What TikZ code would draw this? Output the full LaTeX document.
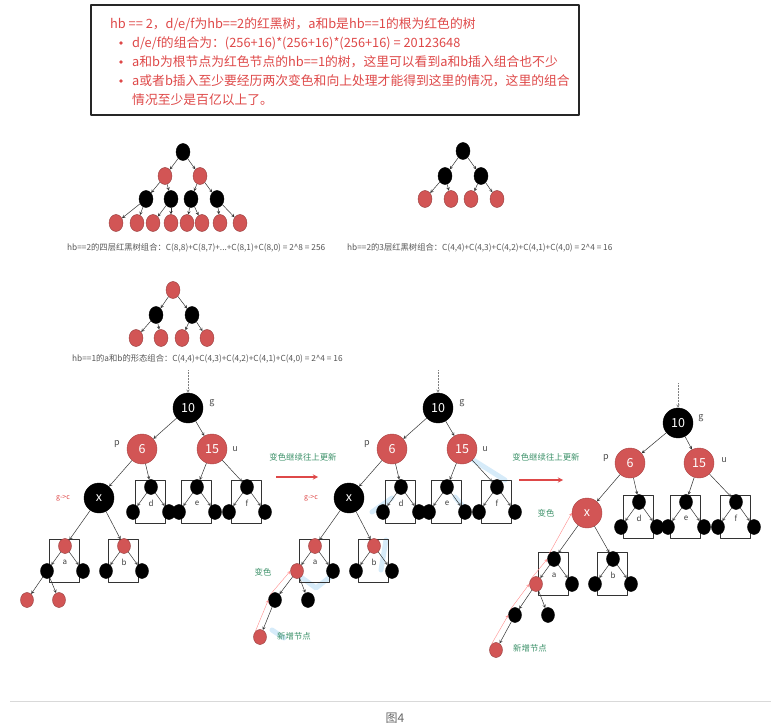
\documentclass[tikz,border=0pt]{standalone}
\usepackage{fontspec}
\setmainfont{Noto Sans CJK SC}
\usetikzlibrary{shapes.geometric}

\definecolor{rbred}{RGB}{210,85,85}
\definecolor{txtred}{RGB}{222,72,72}
\definecolor{notegreen}{RGB}{60,145,105}
\definecolor{capgray}{RGB}{85,85,85}
\definecolor{hiblue}{RGB}{120,190,235}

\tikzset{
  bignode/.style={circle, draw=black, fill=black, minimum size=30pt, inner sep=0pt, text=white, font=\fontsize{12.5}{12.5}\selectfont},
  bigred/.style={bignode, fill=rbred, draw=rbred!80!black},
  smb/.style={ellipse, draw=black, fill=black, minimum width=13pt, minimum height=15pt, inner sep=0pt},
  smr/.style={smb, fill=rbred, draw=rbred!70!black},
  tnb/.style={ellipse, draw=black, fill=black, minimum width=14pt, minimum height=17pt, inner sep=0pt},
  tnr/.style={tnb, fill=rbred, draw=rbred!70!black},
  link/.style={->, draw=black!80, line width=0.5pt},
  boxline/.style={draw=black!80, line width=0.6pt},
  captext/.style={anchor=west, inner sep=0pt, text=capgray, font=\fontsize{8.3}{9}\selectfont},
  note/.style={inner sep=0pt, text=notegreen, font=\fontsize{8.4}{10}\selectfont},
  tagtext/.style={inner sep=0pt, text=black!70, font=\fontsize{9}{10}\selectfont},
  lbl/.style={inner sep=0pt, text=black!75, font=\fontsize{8}{9}\selectfont},
  uparr/.style={->, draw=red!45, line width=0.4pt},
  hilite/.style={draw=hiblue, line width=5pt, opacity=0.3, line cap=round},
}

% subtree in a box: name, x, y, label, top style, left style
\newcommand{\rbsub}[6]{%
  \draw[boxline] ({#2-16},{#3-7}) rectangle ({#2+14},{#3+36});
  \node[#5] (#1t) at (#2,#3) {};
  \node[#6] (#1l) at ({#2-18},{#3+25}) {};
  \node[smb] (#1r) at ({#2+18},{#3+25}) {};
  \node[lbl] (#1n) at (#2,{#3+16}) {#4};
  \draw[link] (#1t) -- (#1l);
  \draw[link] (#1t) -- (#1r);
}

\begin{document}
\begin{tikzpicture}[x=1pt, y=-1pt, >=stealth, line join=round]
\useasboundingbox (0,0) rectangle (771,727);

% note box
\draw[line width=1.8pt, draw=black!85] (91,5) rectangle (579,115);
\begin{scope}[every node/.style={anchor=west, inner sep=0pt, text=txtred, font=\fontsize{12.8}{14}\selectfont}]
\node (hd) at (110,24) {hb == 2，d/e/f为hb==2的红黑树，a和b是hb==1的根为红色的树};
\node (ln1) at (132,43) {d/e/f的组合为：(256+16)*(256+16)*(256+16) = 20123648};
\node (ln2) at (132,62) {a和b为根节点为红色节点的hb==1的树，这里可以看到a和b插入组合也不少};
\node (ln3) at (132,81) {a或者b插入至少要经历两次变色和向上处理才能得到这里的情况，这里的组合};
\node (ln4) at (132,100) {情况至少是百亿以上了。};
\end{scope}
\foreach \y in {43,62,81} \fill[txtred] (121,\y) circle (1.8pt);

% four-level hb==2 tree
\node[tnb] (qr) at (183,152) {};
\node[tnr] (q21) at (165,176) {};
\node[tnr] (q22) at (200,176) {};
\foreach \n/\x in {1/146,2/171,3/191,4/217} \node[tnb] (q3\n) at (\x,199) {};
\foreach \n/\x in {1/116,2/137,3/153,4/171,5/187,6/202,7/220,8/240} \node[tnr] (q4\n) at (\x,223) {};
\foreach \a/\b in {qr/q21,qr/q22,q21/q31,q21/q32,q22/q33,q22/q34,q31/q41,q31/q42,q32/q43,q32/q44,q33/q45,q33/q46,q34/q47,q34/q48}
  \draw[link] (\a) -- (\b);
\node[captext] (qcap) at (67,248) {hb==2的四层红黑树组合：C(8,8)+C(8,7)+...+C(8,1)+C(8,0) = 2\textasciicircum8 = 256};

% three-level hb==2 tree
\node[tnb] (tr) at (463,151) {};
\node[tnb] (t21) at (445,176) {};
\node[tnb] (t22) at (481,176) {};
\foreach \n/\x in {1/425,2/451,3/471,4/497} \node[tnr] (t3\n) at (\x,199) {};
\foreach \a/\b in {tr/t21,tr/t22,t21/t31,t21/t32,t22/t33,t22/t34}
  \draw[link] (\a) -- (\b);
\node[captext] (tcap) at (347,248) {hb==2的3层红黑树组合：C(4,4)+C(4,3)+C(4,2)+C(4,1)+C(4,0) = 2\textasciicircum4 = 16};

% hb==1 tree
\node[tnr] (or) at (173,290) {};
\node[tnb] (o21) at (156,315) {};
\node[tnb] (o22) at (192,315) {};
\foreach \n/\x in {1/136,2/161,3/182,4/207} \node[tnr] (o3\n) at (\x,338) {};
\foreach \a/\b in {or/o21,or/o22,o21/o31,o21/o32,o22/o33,o22/o34}
  \draw[link] (\a) -- (\b);
\node[captext] (ocap) at (72,359) {hb==1的a和b的形态组合：C(4,4)+C(4,3)+C(4,2)+C(4,1)+C(4,0) = 2\textasciicircum4 = 16};

% first big tree
\coordinate (g1in) at (188,370);
\node[bignode] (g1) at (188,408) {10};
\node[bigred] (p1) at (142,449) {6};
\node[bigred] (u1) at (212,449) {15};
\node[bignode] (x1) at (99,498) {x};
\node[tagtext] (g1tag) at (212,403) {g};
\node[tagtext] (p1tag) at (117,444) {p};
\node[tagtext] (u1tag) at (235,449) {u};
\node[inner sep=0pt, text=txtred, font=\fontsize{7}{8}\selectfont] (x1tag) at (63,498) {g->c};
\rbsub{d1}{151}{487}{d}{smb}{smb}
\rbsub{e1}{197}{487}{e}{smb}{smb}
\rbsub{f1}{247}{487}{f}{smb}{smb}
\rbsub{a1}{65}{546}{a}{smr}{smb}
\rbsub{b1}{124}{546}{b}{smr}{smb}
\node[smr] (a1ll) at (27,600) {};
\node[smr] (a1lr) at (59,600) {};
\draw[link, densely dotted, draw=black!50] (g1in) -- (g1);
\foreach \a/\b in {g1/p1,g1/u1,p1/x1,p1/d1t,u1/e1t,u1/f1t,x1/a1t,x1/b1t,a1l/a1ll,a1l/a1lr}
  \draw[link] (\a) -- (\b);

% arrow to second tree
\coordinate (ar1s) at (276,477);
\coordinate (ar1e) at (318,477);
\draw[->, draw=txtred, line width=1.3pt] (ar1s) -- (ar1e);
\node[note] (ar1n) at (303,457) {变色继续往上更新};

% second big tree
\draw[hilite] (372,512) -- (392,498);
\draw[hilite] (470,458) -- (505,480);
\draw[hilite] (455,497) -- (468,512);
\draw[hilite] (298,575) -- (316,588) -- (330,577);
\draw[hilite] (386,540) -- (381,570);
\draw[hilite] (272,630) -- (284,638);
\coordinate (g2in) at (438,370);
\node[bignode] (g2) at (438,408) {10};
\node[bigred] (p2) at (392,449) {6};
\node[bigred] (u2) at (462,449) {15};
\node[bignode] (x2) at (349,498) {x};
\node[tagtext] (g2tag) at (462,403) {g};
\node[tagtext] (p2tag) at (367,444) {p};
\node[tagtext] (u2tag) at (485,449) {u};
\node[inner sep=0pt, text=txtred, font=\fontsize{7}{8}\selectfont] (x2tag) at (311,498) {g->c};
\rbsub{d2}{401}{487}{d}{smb}{smb}
\rbsub{e2}{447}{487}{e}{smb}{smb}
\rbsub{f2}{497}{487}{f}{smb}{smb}
\rbsub{a2}{315}{546}{a}{smr}{smr}
\rbsub{b2}{374}{546}{b}{smr}{smb}
\node[smb] (a2ll) at (275,600) {};
\node[smb] (a2lr) at (308,600) {};
\node[smr] (n2) at (260,637) {};
\node[note] (a2tag) at (263,572) {变色};
\node[note] (n2tag) at (294,636) {新增节点};
\draw[link, densely dotted, draw=black!50] (g2in) -- (g2);
\foreach \a/\b in {g2/p2,g2/u2,p2/x2,p2/d2t,u2/e2t,u2/f2t,x2/a2t,x2/b2t,a2l/a2ll,a2l/a2lr,a2ll/n2}
  \draw[link] (\a) -- (\b);
\draw[uparr] (n2.north west) -- (a2ll.west);
\draw[uparr] (a2ll.north west) -- (a2l.west);

% arrow to third tree
\coordinate (ar2s) at (519,480);
\coordinate (ar2e) at (563,480);
\draw[->, draw=txtred, line width=1.3pt] (ar2s) -- (ar2e);
\node[note] (ar2n) at (546,457) {变色继续往上更新};

% third big tree
\coordinate (g3in) at (678,383);
\node[bignode] (g3) at (678,423) {10};
\node[bigred] (p3) at (630,463) {6};
\node[bigred] (u3) at (699,463) {15};
\node[bigred] (x3) at (587,513) {x};
\node[tagtext] (g3tag) at (701,418) {g};
\node[tagtext] (p3tag) at (606,458) {p};
\node[tagtext] (u3tag) at (724,460) {u};
\node[note] (x3tag) at (546,513) {变色};
\rbsub{d3}{639}{502}{d}{smb}{smb}
\rbsub{e3}{686}{502}{e}{smb}{smb}
\rbsub{f3}{736}{502}{f}{smb}{smb}
\rbsub{a3}{554}{559}{a}{smb}{smr}
\rbsub{b3}{613}{559}{b}{smb}{smb}
\node[smb] (a3ll) at (515,615) {};
\node[smb] (a3lr) at (548,615) {};
\node[smr] (n3) at (496,650) {};
\node[note] (n3tag) at (530,648) {新增节点};
\draw[link, densely dotted, draw=black!50] (g3in) -- (g3);
\foreach \a/\b in {g3/p3,g3/u3,p3/x3,p3/d3t,u3/e3t,u3/f3t,x3/a3t,x3/b3t,a3l/a3ll,a3l/a3lr,a3ll/n3}
  \draw[link] (\a) -- (\b);
\draw[uparr] (n3.north west) -- (a3ll.west);
\draw[uparr] (a3ll.north west) -- (a3l.west);
\draw[uparr] (a3l.north west) -- (a3t.west);
\draw[uparr] (a3t.north west) -- (x3.west);

% bottom rule and caption
\draw[black!15, line width=0.8pt] (10,701) -- (771,701);
\node[text=black!60, font=\fontsize{12}{12}\selectfont] (fig) at (395,718) {图4};
\end{tikzpicture}
\end{document}
